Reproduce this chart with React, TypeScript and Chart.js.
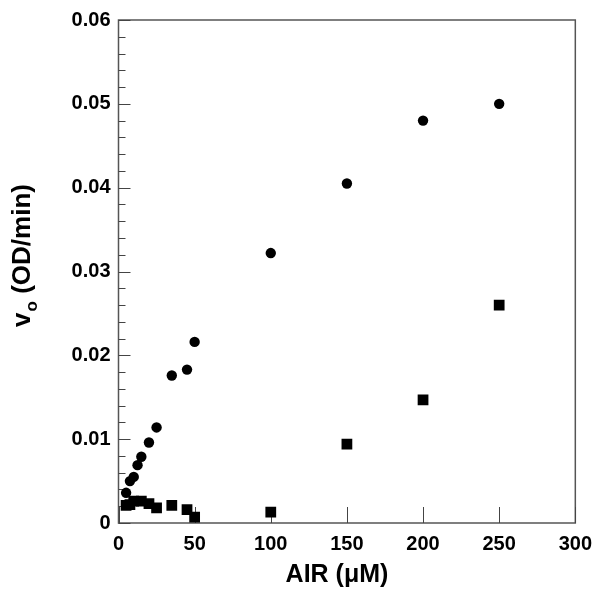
import React, { useEffect, useRef } from 'react';
import { Chart, registerables } from 'chart.js';
Chart.register(...registerables);

const airCircles = [5, 7.5, 10, 12.5, 15, 20, 25, 35, 45, 50, 100, 150, 200, 250];
const voCircles = [0.0036, 0.0050, 0.0055, 0.0069, 0.0079, 0.0096, 0.0114, 0.0176, 0.0183, 0.0216, 0.0322, 0.0405, 0.0480, 0.0500];
const airSquares = [5, 7.5, 10, 15, 20, 25, 35, 45, 50, 100, 150, 200, 250];
const voSquares = [0.0021, 0.0022, 0.0026, 0.0026, 0.0023, 0.0018, 0.0021, 0.0016, 0.0007, 0.0013, 0.0094, 0.0147, 0.0260];

const xTicks = [0, 50, 100, 150, 200, 250, 300];
const yTicks = [0, 0.01, 0.02, 0.03, 0.04, 0.05, 0.06];
const xTitle = 'AIR (\u03bcM)';
const yTitleMain = 'v';
const yTitleSub = 'o';
const yTitleRest = ' (OD/min)';

const FONT = '"Liberation Sans", Arial, sans-serif';

const framePlugin = {
  id: 'frameTicks',
  beforeDatasetsDraw(chart: any) {
    const { ctx, chartArea, scales } = chart;
    const { left, right, top, bottom } = chartArea;
    const x = scales.x, y = scales.y;
    ctx.save();
    ctx.strokeStyle = '#555';
    ctx.lineWidth = 1.5;
    ctx.strokeRect(left, top, right - left, bottom - top);
    ctx.lineWidth = 1;
    ctx.strokeStyle = '#444';
    ctx.beginPath();
    for (const v of xTicks) {
      const px = Math.round(x.getPixelForValue(v)) + 0.5;
      ctx.moveTo(px, bottom);
      ctx.lineTo(px, bottom - 16);
    }
    const yMin = yTicks[0], yMax = yTicks[yTicks.length - 1];
    for (let i = 0; i <= 30; i++) {
      const v = yMin + (yMax - yMin) * i / 30;
      const py = Math.round(y.getPixelForValue(v)) + 0.5;
      const major = i % 5 === 0;
      ctx.moveTo(left, py);
      ctx.lineTo(left + (major ? 12 : 7), py);
    }
    ctx.stroke();
    ctx.restore();
  },
  afterDraw(chart: any) {
    const { ctx } = chart;
    ctx.save();
    ctx.fillStyle = '#000';
    ctx.font = `bold 25px ${FONT}`;
    ctx.textAlign = 'center';
    ctx.textBaseline = 'alphabetic';
    ctx.fillText(xTitle, 337, 582);

    ctx.translate(30, 256);
    ctx.rotate(-Math.PI / 2);
    ctx.font = `bold 26px ${FONT}`;
    const wMain = ctx.measureText(yTitleMain).width;
    const wRest = ctx.measureText(yTitleRest).width;
    ctx.font = `bold 17px ${FONT}`;
    const wSub = ctx.measureText(yTitleSub).width;
    const total = wMain + wSub + wRest;
    let cx = -total / 2;
    ctx.textAlign = 'left';
    ctx.font = `bold 26px ${FONT}`;
    ctx.fillText(yTitleMain, cx, 0);
    cx += wMain + 1;
    ctx.font = `bold 17px ${FONT}`;
    ctx.fillText(yTitleSub, cx, 7);
    cx += wSub;
    ctx.font = `bold 26px ${FONT}`;
    ctx.fillText(yTitleRest, cx, 0);
    ctx.restore();
  },
};

export default function App() {
  const ref = useRef<HTMLCanvasElement>(null);
  useEffect(() => {
    if (!ref.current) return;
    const chart = new Chart(ref.current, {
      type: 'scatter',
      data: {
        datasets: [
          {
            label: 'circles',
            data: airCircles.map((a, i) => ({ x: a, y: voCircles[i] })),
            pointStyle: 'circle',
            pointRadius: 5.2,
            backgroundColor: '#000',
            borderColor: '#000',
            borderWidth: 0,
          },
          {
            label: 'squares',
            data: airSquares.map((a, i) => ({ x: a, y: voSquares[i] })),
            pointStyle: 'rect',
            pointRadius: 7.6,
            backgroundColor: '#000',
            borderColor: '#000',
            borderWidth: 0,
          },
        ],
      },
      options: {
        animation: false,
        responsive: false,
        layout: { padding: { left: 0, top: 19, right: 25.5, bottom: 0 } },
        plugins: { legend: { display: false }, tooltip: { enabled: false } },
        scales: {
          x: {
            type: 'linear',
            min: xTicks[0],
            max: xTicks[xTicks.length - 1],
            afterBuildTicks: (s: any) => { s.ticks = xTicks.map((v) => ({ value: v })); },
            afterFit: (s: any) => { s.height = 69; },
            grid: { display: false, drawTicks: false },
            border: { display: false },
            ticks: {
              color: '#000',
              padding: 9,
              font: { family: FONT, size: 20, weight: 'bold' },
              callback: (v: any) => String(v),
            },
          },
          y: {
            type: 'linear',
            min: yTicks[0],
            max: yTicks[yTicks.length - 1],
            afterBuildTicks: (s: any) => { s.ticks = yTicks.map((v) => ({ value: v })); },
            afterFit: (s: any) => { s.width = 118.5; },
            grid: { display: false, drawTicks: false },
            border: { display: false },
            ticks: {
              color: '#000',
              padding: 8,
              font: { family: FONT, size: 20, weight: 'bold' },
              callback: (v: any) => (Number(v) === 0 ? '0' : Number(v).toFixed(2)),
            },
          },
        },
      },
      plugins: [framePlugin],
    });
    return () => chart.destroy();
  }, []);
  return (
    <div style={{ position: 'absolute', left: 0, top: 0, width: 601, height: 592, background: '#fff' }}>
      <canvas ref={ref} width={601} height={592} style={{ display: 'block' }} />
    </div>
  );
}
